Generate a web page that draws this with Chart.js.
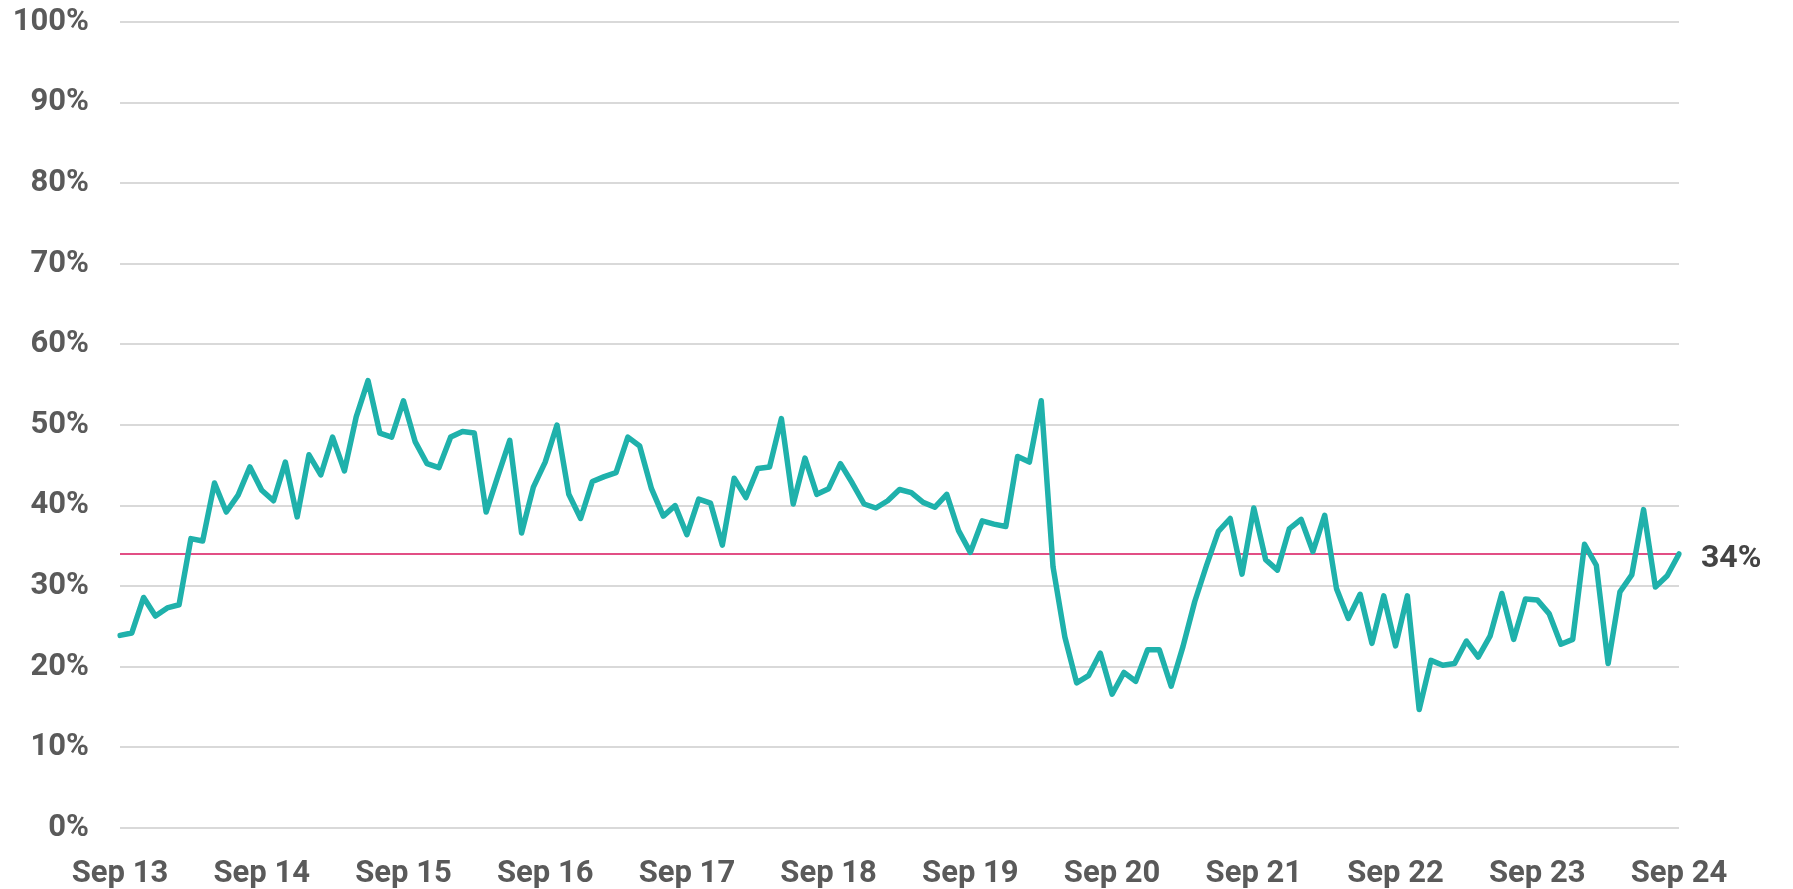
<!DOCTYPE html>
<html>
<head>
<meta charset="utf-8">
<script src="https://cdn.jsdelivr.net/npm/chart.js@4/dist/chart.umd.min.js"></script>
<style>
    html, body { margin: 0; padding: 0; background: #ffffff; }
</style>
</head>
<body>
<canvas id="shareChart" width="1793" height="889"></canvas>
<script>
// months shown on the x axis, Sep 13 .. Sep 24
const monthNames = ['Sep', 'Oct', 'Nov', 'Dec', 'Jan', 'Feb', 'Mar', 'Apr', 'May', 'Jun', 'Jul', 'Aug'];
const firstYear = 13;
const monthCount = 133;

// monthly share, in percent
const shareValues = [
    23.9, 24.2, 28.6, 26.3, 27.3, 27.7, 35.9, 35.6, 42.8, 39.2, 41.3, 44.8,
    41.9, 40.6, 45.4, 38.6, 46.3, 43.8, 48.5, 44.3, 51.0, 55.5, 49.0, 48.5,
    53.0, 47.9, 45.2, 44.7, 48.5, 49.2, 49.0, 39.2, 43.7, 48.1, 36.6, 42.3,
    45.4, 50.0, 41.4, 38.4, 43.0, 43.6, 44.1, 48.5, 47.4, 42.1, 38.7, 40.0,
    36.4, 40.8, 40.3, 35.1, 43.4, 41.0, 44.6, 44.8, 50.8, 40.2, 45.9, 41.4,
    42.1, 45.2, 42.8, 40.2, 39.7, 40.6, 42.0, 41.6, 40.4, 39.8, 41.4, 36.9,
    34.2, 38.1, 37.7, 37.4, 46.1, 45.4, 53.0, 32.4, 23.7, 18.0, 18.9, 21.7,
    16.6, 19.3, 18.2, 22.1, 22.1, 17.6, 22.5, 28.1, 32.6, 36.8, 38.4, 31.5,
    39.7, 33.3, 32.0, 37.1, 38.3, 34.3, 38.8, 29.7, 26.0, 29.0, 22.9, 28.8,
    22.6, 28.8, 14.7, 20.8, 20.2, 20.4, 23.2, 21.2, 23.8, 29.1, 23.4, 28.4,
    28.3, 26.6, 22.8, 23.4, 35.2, 32.6, 20.4, 29.3, 31.4, 39.5, 29.9, 31.3,
    34.0
];

// latest level, drawn as the thin red line
const latestLevel = 34;
const latestLabel = '34%';

// y axis ticks
const yTicks = [0, 10, 20, 30, 40, 50, 60, 70, 80, 90, 100];

// build the month labels
const monthLabels = [];
for (let i = 0; i < monthCount; i++) {
    const yr = firstYear + Math.floor((i + 8) / 12);
    monthLabels.push(monthNames[i % 12] + ' ' + yr);
}

const tickFont = { family: 'Roboto, "Open Sans", sans-serif', size: 31, weight: 'bold' };

// writes the latest value to the right of the line
const latestLabelPlugin = {
    id: 'latestLabel',
    afterDatasetsDraw(chart) {
        const ctx = chart.ctx;
        const y = chart.scales.y.getPixelForValue(latestLevel);
        ctx.save();
        ctx.font = 'bold 32px Roboto, "Open Sans", sans-serif';
        ctx.fillStyle = '#444444';
        ctx.textAlign = 'left';
        ctx.textBaseline = 'middle';
        ctx.fillText(latestLabel, chart.chartArea.right + 22, y + 5);
        ctx.restore();
    }
};

const ctx = document.getElementById('shareChart').getContext('2d');
const shareChart = new Chart(ctx, {
    type: 'line',
    data: {
        labels: monthLabels,
        datasets: [
            {
                label: 'Share',
                data: shareValues,
                borderColor: '#1fb1ab',
                borderWidth: 5.5,
                borderJoinStyle: 'round',
                borderCapStyle: 'round',
                pointRadius: 0,
                tension: 0,
                order: 0
            },
            {
                label: 'Latest',
                data: monthLabels.map(() => latestLevel),
                borderColor: '#d8155c',
                borderWidth: 1.5,
                pointRadius: 0,
                tension: 0,
                order: 1
            }
        ]
    },
    options: {
        responsive: false,
        animation: false,
        layout: {
            padding: { top: 22, right: 114, bottom: 0, left: 0 }
        },
        plugins: {
            legend: { display: false },
            tooltip: { enabled: false }
        },
        scales: {
            x: {
                grid: { display: false },
                border: { display: false },
                ticks: {
                    autoSkip: false,
                    maxRotation: 0,
                    minRotation: 0,
                    padding: 20,
                    color: '#5a5a5a',
                    font: tickFont,
                    callback: function(value, index) {
                        return index % 12 === 0 ? monthLabels[index] : null;
                    }
                },
                afterFit: function(scale) { scale.height = 61; }
            },
            y: {
                min: 0,
                max: 100,
                afterBuildTicks: function(scale) {
                    scale.ticks = yTicks.map(v => ({ value: v }));
                },
                grid: {
                    color: '#d9d9d9',
                    lineWidth: 2,
                    drawTicks: false,
                    tickLength: 0
                },
                border: { display: false },
                ticks: {
                    padding: 31,
                    color: '#5a5a5a',
                    font: tickFont,
                    callback: function(value) { return value + '%'; }
                },
                afterFit: function(scale) {
                    scale.width = 120;
                    scale.paddingTop = 0;
                    scale.paddingBottom = 0;
                }
            }
        }
    },
    plugins: [latestLabelPlugin]
});
</script>
</body>
</html>
